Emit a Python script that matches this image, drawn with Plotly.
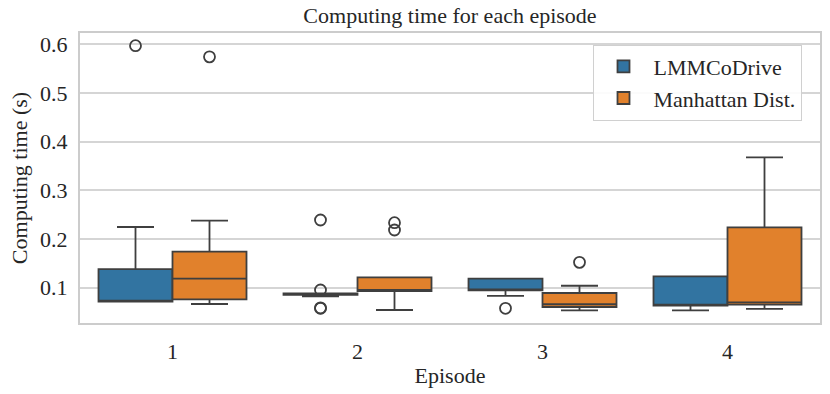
import plotly.graph_objects as go

episodes = ["1", "2", "3", "4"]
series_names = ["LMMCoDrive", "Manhattan Dist."]
colors = ["#3274a1", "#e1812c"]

# LMMCoDrive box statistics per episode
lmm_q1 = [0.0713, 0.0855, 0.0943, 0.0630]
lmm_med = [0.0716, 0.0870, 0.0945, 0.0632]
lmm_q3 = [0.1380, 0.0885, 0.1185, 0.1234]
lmm_lo = [0.0713, 0.0823, 0.0830, 0.0536]
lmm_hi = [0.2246, 0.0885, 0.1185, 0.1234]
lmm_out = [[0.597], [0.239, 0.0953, 0.0577, 0.0585], [0.0577], []]

# Manhattan Dist. box statistics per episode
man_q1 = [0.0762, 0.0932, 0.0604, 0.0651]
man_med = [0.1185, 0.0935, 0.0660, 0.0700]
man_q3 = [0.1740, 0.1213, 0.0891, 0.2240]
man_lo = [0.0665, 0.0542, 0.0536, 0.0563]
man_hi = [0.2376, 0.1213, 0.1040, 0.3678]
man_out = [[0.574], [0.2335, 0.2185], [0.152], []]

stats = [
    (lmm_q1, lmm_med, lmm_q3, lmm_lo, lmm_hi, lmm_out),
    (man_q1, man_med, man_q3, man_lo, man_hi, man_out),
]

FONT = "Liberation Serif, Times New Roman, serif"
EDGE = "#3f3f3f"
TXT = "#262626"
BOXW = 0.4
offsets = [-BOXW / 2, BOXW / 2]

fig = go.Figure()
for s, (q1, med, q3, lo, hi, outs) in enumerate(stats):
    xs = [i + offsets[s] for i in range(len(episodes))]
    fig.add_trace(go.Box(
        name=series_names[s],
        x=xs, q1=q1, median=med, q3=q3, lowerfence=lo, upperfence=hi,
        width=BOXW, whiskerwidth=0.5,
        fillcolor=colors[s],
        line=dict(color=EDGE, width=1.8),
        boxpoints=False,
        legendgroup=series_names[s],
    ))
    ox, oy = [], []
    for i, vals in enumerate(outs):
        for v in vals:
            ox.append(i + offsets[s])
            oy.append(v)
    fig.add_trace(go.Scatter(
        x=ox, y=oy, mode="markers",
        marker=dict(symbol="circle-open", size=11, color=EDGE, line=dict(width=1.8, color=EDGE)),
        showlegend=False, legendgroup=series_names[s], hoverinfo="y",
    ))

fig.update_layout(
    width=830, height=394,
    margin=dict(l=80, r=10, t=33, b=71),
    paper_bgcolor="white", plot_bgcolor="white",
    boxmode="overlay",
    font=dict(family=FONT, size=22, color=TXT),
    title=dict(text="Computing time for each episode", x=0.5, xref="paper", xanchor="center",
               y=1 - 15 / 394, yref="container", yanchor="middle",
               font=dict(size=22, family=FONT, color=TXT)),
    legend=dict(x=0.975, xanchor="right", y=0.96, yanchor="top",
                bordercolor="#d0d0d0", borderwidth=1, bgcolor="rgba(255,255,255,0.9)",
                font=dict(size=22, family=FONT, color=TXT), tracegroupgap=0, itemwidth=50),
    xaxis=dict(
        range=[-0.5, 3.5], tickmode="array", tickvals=list(range(len(episodes))), ticktext=episodes,
        showgrid=False, zeroline=False, showline=True, mirror=True, linecolor="#cccccc", linewidth=2,
        title=dict(text="Episode", font=dict(size=22), standoff=4), ticks="", ticklabelstandoff=8,
        automargin=False,
    ),
    yaxis=dict(
        range=[0.0275, 0.623], tickmode="array", tickvals=[0.1, 0.2, 0.3, 0.4, 0.5, 0.6],
        ticktext=["0.1", "0.2", "0.3", "0.4", "0.5", "0.6"],
        showgrid=True, gridcolor="#d5d5d5", gridwidth=1.5, zeroline=False,
        showline=True, mirror=True, linecolor="#cccccc", linewidth=2,
        title=dict(text="Computing time (s)", font=dict(size=22), standoff=6), ticks="",
        ticklabelstandoff=6, automargin=False,
    ),
)

fig.write_html("out.html", config={"displayModeBar": False},
               post_script="document.body.style.margin='0';")
